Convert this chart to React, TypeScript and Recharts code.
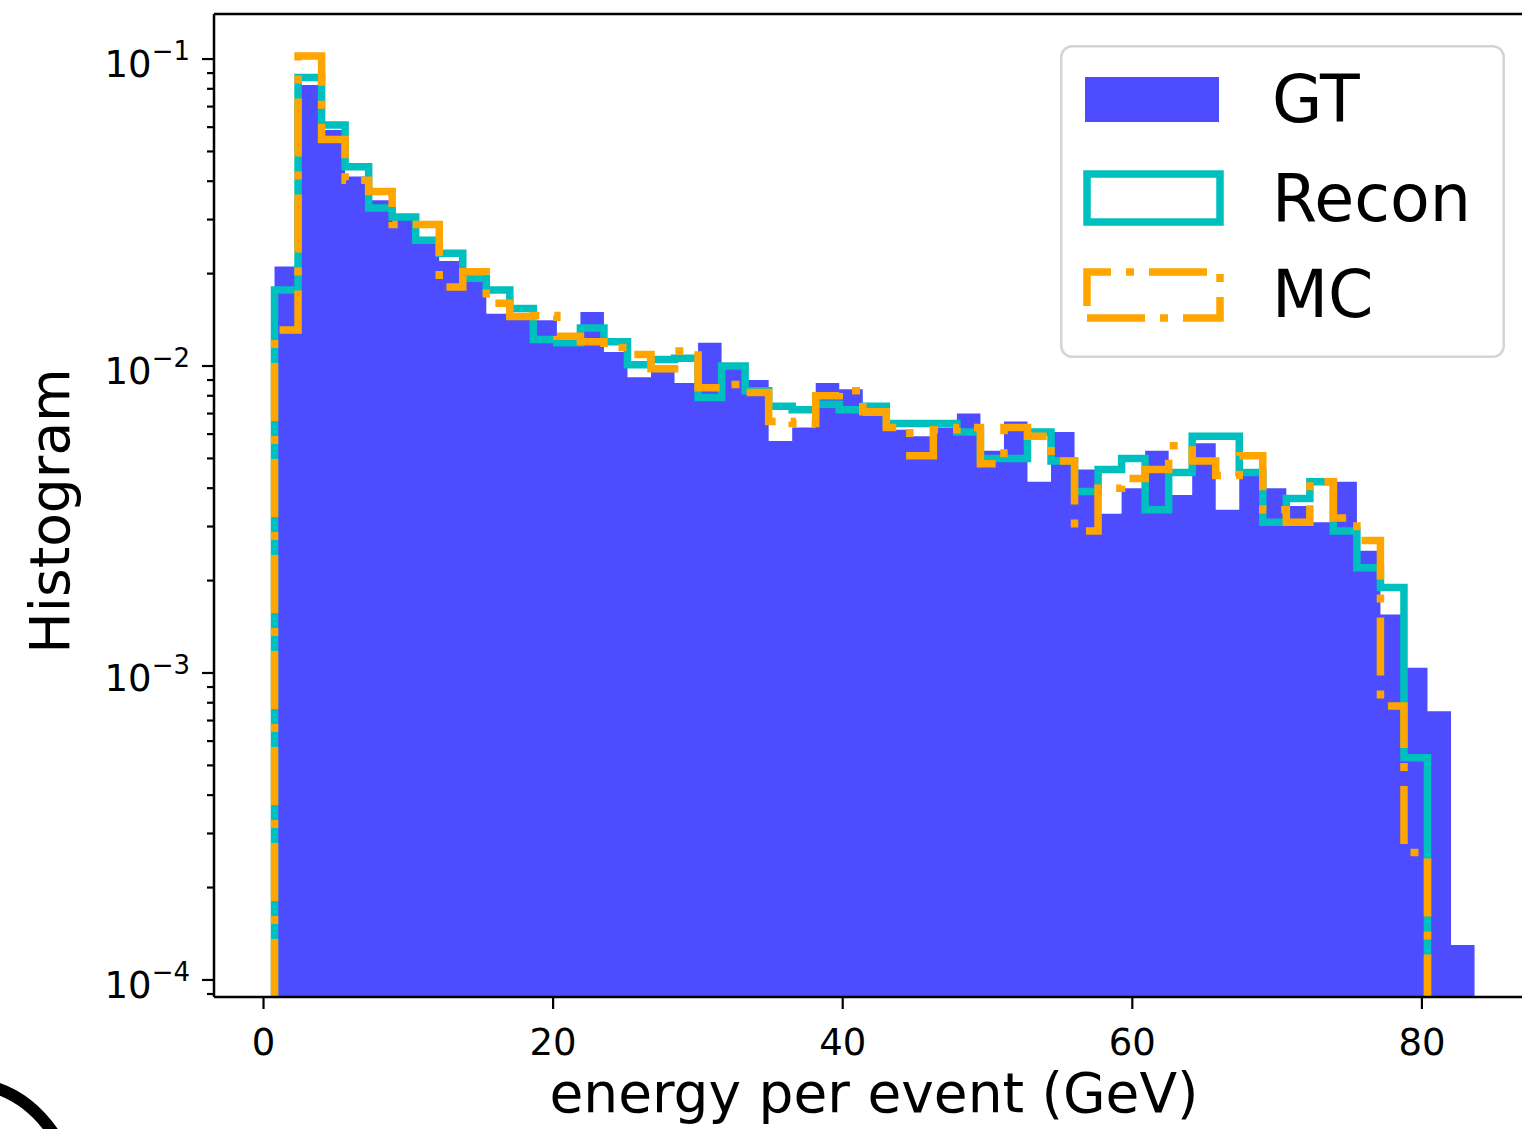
import React from "react";
import { ComposedChart, Area, Line, XAxis, YAxis, Legend, ReferenceLine, Label } from "recharts";

// common binning for the three samples (GeV)
const BIN_START = 0.76;
const BIN_WIDTH = 1.625;

// normalised counts per bin
const gtValues = [
    0.0211, 0.0823, 0.0587, 0.0414, 0.0347, 0.0299, 0.0255, 0.022, 0.019, 0.0148,
    0.0145, 0.0141, 0.0118, 0.015, 0.0111, 0.0092, 0.0097, 0.0088, 0.0119, 0.0099,
    0.009, 0.0057, 0.0063, 0.0088, 0.0084, 0.0069, 0.0062, 0.0059, 0.0063, 0.007,
    0.0053, 0.0066, 0.0042, 0.0061, 0.0046, 0.0033, 0.004, 0.0053, 0.0038, 0.0056,
    0.0034, 0.0046, 0.004, 0.0035, 0.0031, 0.0042, 0.0025, 0.00155, 0.00104, 0.00075,
    0.00013,
];
const reconValues = [
    0.0177, 0.0871, 0.061, 0.0446, 0.0327, 0.0306, 0.0257, 0.0233, 0.0193, 0.0177,
    0.0154, 0.0122, 0.0119, 0.0133, 0.012, 0.0101, 0.0105, 0.0106, 0.0079, 0.01,
    0.0083, 0.0074, 0.0072, 0.0075, 0.0072, 0.0074, 0.0065, 0.0065, 0.0065, 0.0061,
    0.005, 0.005, 0.0061, 0.0049, 0.0039, 0.0046, 0.005, 0.0034, 0.0045, 0.0059,
    0.0059, 0.0045, 0.0031, 0.0037, 0.0042, 0.0029, 0.0022, 0.0019, 0.00053, 0,
    0,
];
const mcValues = [
    0.0131, 0.1024, 0.0547, 0.0403, 0.037, 0.0289, 0.0289, 0.0181, 0.0203, 0.016,
    0.0145, 0.0146, 0.0125, 0.012, 0.0115, 0.0109, 0.0098, 0.0112, 0.0085, 0.0087,
    0.0082, 0.0066, 0.0065, 0.008, 0.0083, 0.0071, 0.0063, 0.0051, 0.0062, 0.0063,
    0.0048, 0.0063, 0.0059, 0.0049, 0.0029, 0.004, 0.0043, 0.0046, 0.0055, 0.0049,
    0.0044, 0.0051, 0.0034, 0.0031, 0.0042, 0.0032, 0.0027, 0.00078, 0.00026, 0,
    0,
];

const xTicks = [0, 20, 40, 60, 80];
const yTicks = [
    9e-5,
    1e-4, 2e-4, 3e-4, 4e-4, 5e-4, 6e-4, 7e-4, 8e-4, 9e-4,
    1e-3, 2e-3, 3e-3, 4e-3, 5e-3, 6e-3, 7e-3, 8e-3, 9e-3,
    1e-2, 2e-2, 3e-2, 4e-2, 5e-2, 6e-2, 7e-2, 8e-2, 9e-2,
    1e-1,
];

const X_MIN = -3.42;
const X_MAX = 87.74;
const Y_MIN = 8.8e-5;
const Y_MAX = 0.1402;

const GT_COLOR = "#4d4dff";
const RECON_COLOR = "#00bfbf";
const MC_COLOR = "#ffa500";
const MC_DASH = "58 15 8 15";
const LINE_W = 7.5;
const FONT = '"DejaVu Sans", Verdana, sans-serif';

const edge = (i: number) => BIN_START + i * BIN_WIDTH;

// filled histogram: a point on every left edge plus the closing right edge
const filledSteps = (vals: number[]) => [
    ...vals.map((v, i) => ({ x: edge(i), y: v })),
    { x: edge(vals.length), y: vals[vals.length - 1] },
];

// step outline: rises from the axis floor and drops back after the last non-empty bin
const outlineSteps = (vals: number[]) => {
    let last = vals.length - 1;
    while (last >= 0 && vals[last] <= 0) last--;
    const pts = [{ x: edge(0), y: Y_MIN }];
    for (let i = 0; i <= last; i++) pts.push({ x: edge(i), y: vals[i] });
    pts.push({ x: edge(last + 1), y: Y_MIN });
    return pts;
};

const gtData = filledSteps(gtValues);
const reconData = outlineSteps(reconValues);
const mcData = outlineSteps(mcValues);

const YTick = (props: any) => {
    const { x, y, payload } = props;
    const lg = Math.log10(payload.value);
    const exp = Math.round(lg);
    const major = Math.abs(lg - exp) < 1e-6;
    const axisX = x + 24;
    return (
        <g>
            <line x1={axisX - (major ? 12 : 7)} x2={axisX} y1={y} y2={y} stroke="#000" strokeWidth={2.2} />
            {major && (
                <text x={x} y={y + 18} textAnchor="end" fontFamily={FONT} fontSize={37} fill="#000">
                    10
                    <tspan fontSize={26} dy={-17}>{`\u2212${-exp}`}</tspan>
                </text>
            )}
        </g>
    );
};

const XTick = (props: any) => {
    const { x, y, payload } = props;
    return (
        <text x={x} y={y + 31} textAnchor="middle" fontFamily={FONT} fontSize={37} fill="#000">
            {payload.value}
        </text>
    );
};

const renderLegend = () => (
    <svg width={445} height={313} style={{ display: "block" }}>
        <rect x={1.25} y={1.25} width={442.5} height={310.5} rx={11} fill="rgba(255,255,255,0.8)" stroke="#d4d4d4" strokeWidth={2.5} />
        <rect x={25} y={32} width={134} height={45} fill={GT_COLOR} />
        <rect x={27} y={129} width={133} height={48} fill="none" stroke={RECON_COLOR} strokeWidth={LINE_W} />
        <path d="M27 273 H160 V227 H27 Z" fill="none" stroke={MC_COLOR} strokeWidth={LINE_W} strokeDasharray={MC_DASH} />
        <g fontFamily={FONT} fontSize={65} fill="#000">
            <text x={212} y={77}>GT</text>
            <text x={212} y={176}>Recon</text>
            <text x={212} y={272}>MC</text>
        </g>
    </svg>
);

export default function App() {
    return (
        <div style={{ position: "absolute", left: 0, top: 0, width: 1522, height: 1129, overflow: "hidden", background: "#fff" }}>
            <ComposedChart width={1540} height={1129} margin={{ top: 14, right: 6, left: 0, bottom: 0 }}>
                <XAxis
                    dataKey="x"
                    type="number"
                    domain={[X_MIN, X_MAX]}
                    allowDataOverflow
                    ticks={xTicks}
                    interval={0}
                    height={132}
                    tickSize={12}
                    tickMargin={15}
                    tick={<XTick />}
                    tickLine={{ stroke: "#000", strokeWidth: 2.2 }}
                    axisLine={{ stroke: "#000", strokeWidth: 2.5 }}
                >
                    <Label
                        content={() => (
                            <text x={874} y={1112} textAnchor="middle" fontFamily={FONT} fontSize={55} fill="#000">
                                energy per event (GeV)
                            </text>
                        )}
                    />
                </XAxis>
                <YAxis
                    type="number"
                    scale="log"
                    domain={[Y_MIN, Y_MAX]}
                    allowDataOverflow
                    ticks={yTicks}
                    interval={0}
                    width={214}
                    tickSize={12}
                    tickMargin={12}
                    tickLine={false}
                    tick={<YTick />}
                    axisLine={{ stroke: "#000", strokeWidth: 2.5 }}
                >
                    <Label
                        content={() => (
                            <text
                                x={69}
                                y={511}
                                transform="rotate(-90 69 511)"
                                textAnchor="middle"
                                fontFamily={FONT}
                                fontSize={55}
                                fill="#000"
                            >
                                Histogram
                            </text>
                        )}
                    />
                </YAxis>
                <Area
                    data={gtData}
                    dataKey="y"
                    name="GT"
                    type="stepAfter"
                    baseValue={Y_MIN}
                    fill={GT_COLOR}
                    fillOpacity={1}
                    stroke="none"
                    dot={false}
                    activeDot={false}
                    isAnimationActive={false}
                />
                <Line
                    data={reconData}
                    dataKey="y"
                    name="Recon"
                    type="stepAfter"
                    stroke={RECON_COLOR}
                    strokeWidth={LINE_W}
                    strokeLinejoin="miter"
                    dot={false}
                    activeDot={false}
                    isAnimationActive={false}
                />
                <Line
                    data={mcData}
                    dataKey="y"
                    name="MC"
                    type="stepAfter"
                    stroke={MC_COLOR}
                    strokeWidth={LINE_W}
                    strokeDasharray={MC_DASH}
                    strokeLinejoin="miter"
                    dot={false}
                    activeDot={false}
                    isAnimationActive={false}
                />
                <ReferenceLine y={Y_MAX} stroke="#000" strokeWidth={2.5} ifOverflow="visible" />
                {/* centred + middle keeps the legend from reserving plot space; wrapperStyle places it */}
                <Legend
                    layout="horizontal"
                    verticalAlign="middle"
                    align="center"
                    content={renderLegend}
                    wrapperStyle={{ left: 1060, top: 45, width: 445, height: 313 }}
                />
            </ComposedChart>
            <svg width={1522} height={1129} style={{ position: "absolute", left: 0, top: 0, pointerEvents: "none" }}>
                <path d="M-4 1088 Q 30 1099 54 1134" fill="none" stroke="#000" strokeWidth={12} />
            </svg>
        </div>
    );
}
